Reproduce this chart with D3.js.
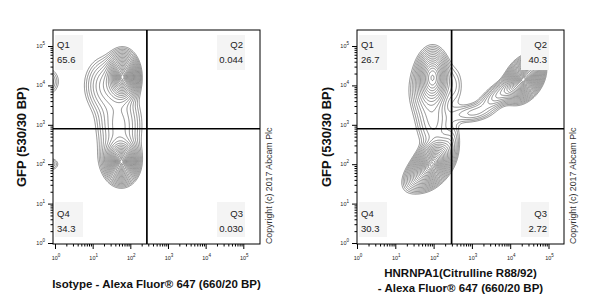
<!DOCTYPE html>
<html><head><meta charset="utf-8">
<script src="https://cdn.jsdelivr.net/npm/d3@7"></script>
<style>
body{margin:0;background:#fff}
svg{display:block}
text{font-family:"Liberation Sans",Arial,sans-serif}
</style>
</head><body>
<svg id="chart" width="600" height="300"></svg>
<script>
// ---------------- data ----------------
const quadrantNames = ["Q1", "Q2", "Q3", "Q4"];
const leftPercents = ["65.6", "0.044", "0.030", "34.3"];
const rightPercents = ["26.7", "40.3", "2.72", "30.3"];
const tickExponents = [0, 1, 2, 3, 4, 5];
const yTitle = "GFP (530/30 BP)";
const leftXTitle = ["Isotype - Alexa Fluor® 647 (660/20 BP)"];
const rightXTitle = ["HNRNPA1(Citrulline R88/92)", "- Alexa Fluor® 647 (660/20 BP)"];
const copyrightText = "Copyright (c) 2017 Abcam Plc";
// quadrant gates (log10 positions)
const leftGate = [2.44, 2.90];
const rightGate = [2.47, 2.90];
// cell populations: [log10 x, log10 y, sd x, sd y, correlation, weight]
const leftPopulations = [
  [1.80, 4.22, 0.19, 0.28, 0.0, 0.36],
  [1.35, 4.00, 0.30, 0.38, 0.0, 0.12],
  [1.70, 3.00, 0.32, 0.50, 0.0, 0.17],
  [1.77, 2.05, 0.19, 0.24, 0.0, 0.28],
  [1.70, 2.15, 0.27, 0.30, 0.0, 0.07],
  [-0.25, 4.10, 0.20, 0.20, 0.0, 0.03],
  [-0.15, 2.00, 0.15, 0.10, 0.0, 0.008]
];
const rightPopulations = [
  [1.98, 4.22, 0.19, 0.32, 0.0, 0.18],
  [1.85, 3.85, 0.27, 0.42, 0.0, 0.07],
  [2.55, 4.00, 0.16, 0.35, 0.0, 0.012],
  [1.98, 2.02, 0.23, 0.27, 0.40, 0.24],
  [1.70, 1.80, 0.25, 0.25, 0.50, 0.06],
  [2.00, 3.00, 0.25, 0.40, 0.0, 0.05],
  [4.36, 4.16, 0.22, 0.25, 0.35, 0.24],
  [3.85, 3.85, 0.35, 0.25, 0.75, 0.06],
  [3.00, 3.30, 0.35, 0.15, 0.30, 0.02],
  [2.45, 2.50, 0.15, 0.35, 0.30, 0.015]
];

// ---------------- layout ----------------
const panels = [
  {box: [53, 30, 260, 244], xr: [55, 243.3], yr: [243, 46], pops: leftPopulations, pct: leftPercents,
   gate: leftGate, title: leftXTitle, titleY: [288], yTitleX: 26, copyX: 272},
  {box: [357, 30, 564, 244], xr: [357, 548.5], yr: [243, 46], pops: rightPopulations, pct: rightPercents,
   gate: rightGate, title: rightXTitle, titleY: [277, 292], yTitleX: 331, copyX: 576}
];

const svg = d3.select("#chart");
const step = 0.02, l0 = -0.6, l1 = 6.0;
const n = Math.round((l1 - l0) / step) + 1;

function density(pops, lx, ly) {
  let s = 0;
  for (const [mx, my, sx, sy, r, w] of pops) {
    const dx = (lx - mx) / sx, dy = (ly - my) / sy, k = 1 - r * r;
    s += w / (2 * Math.PI * sx * sy * Math.sqrt(k)) * Math.exp(-(dx * dx - 2 * r * dx * dy + dy * dy) / (2 * k));
  }
  return s;
}

panels.forEach((p, pi) => {
  const [bx0, by0, bx1, by1] = p.box;
  const x = d3.scaleLog().domain([1, 1e5]).range(p.xr);
  const y = d3.scaleLog().domain([1, 1e5]).range(p.yr);
  const g = svg.append("g");

  const clipId = "clip" + pi;
  svg.append("clipPath").attr("id", clipId).append("rect")
    .attr("x", bx0).attr("y", by0).attr("width", bx1 - bx0).attr("height", by1 - by0);

  // density grid
  const values = new Float64Array(n * n);
  for (let j = 0; j < n; j++) for (let i = 0; i < n; i++)
    values[j * n + i] = density(p.pops, l0 + i * step, l0 + j * step);
  const maxV = d3.max(values);
  const thresholds = d3.range(0.2, 2.8, 0.12).map(r => maxV * Math.exp(-r * r / 2));
  const contours = d3.contours().size([n, n]).thresholds(thresholds)(values);
  const proj = d3.geoTransform({
    point: function (cx, cy) {
      this.stream.point(x(Math.pow(10, l0 + (cx - 0.5) * step)), y(Math.pow(10, l0 + (cy - 0.5) * step)));
    }
  });
  const path = d3.geoPath(proj);
  g.append("g").attr("clip-path", `url(#${clipId})`)
    .selectAll("path").data(contours).join("path")
    .attr("d", path).attr("fill", "none").attr("stroke", "#444").attr("stroke-width", 0.6);

  // label backgrounds + quadrant labels
  const lw = 28;
  const boxes = [
    [bx0 + 2, by0 + 5, "start", bx0 + 4],
    [bx1 - 15 - lw, by0 + 5, "end", bx1 - 17],
    [bx1 - 15 - lw, by1 - 42, "end", bx1 - 17],
    [bx0 + 2, by1 - 42, "start", bx0 + 4]
  ];
  quadrantNames.forEach((q, qi) => {
    const [rx, ry, anchor, tx] = boxes[qi];
    g.append("rect").attr("x", rx).attr("y", ry).attr("width", lw).attr("height", 35).attr("fill", "#f4f4f4");
    const top = qi < 2;
    const b1 = top ? 48 : 217;
    g.append("text").attr("x", tx).attr("y", b1).attr("text-anchor", anchor)
      .attr("font-size", 9.5).attr("fill", "#222").text(q);
    g.append("text").attr("x", tx).attr("y", b1 + 15).attr("text-anchor", anchor)
      .attr("font-size", 9.5).attr("fill", "#222").text(p.pct[qi]);
  });

  // gates
  const gx = x(Math.pow(10, p.gate[0])), gy = y(Math.pow(10, p.gate[1]));
  g.append("line").attr("x1", gx).attr("x2", gx).attr("y1", by0).attr("y2", by1).attr("stroke", "#000").attr("stroke-width", 1.7);
  g.append("line").attr("x1", bx0).attr("x2", bx1).attr("y1", gy).attr("y2", gy).attr("stroke", "#000").attr("stroke-width", 1.7);

  // frame
  g.append("rect").attr("x", bx0).attr("y", by0).attr("width", bx1 - bx0).attr("height", by1 - by0)
    .attr("fill", "none").attr("stroke", "#000").attr("stroke-width", 1);

  // axes
  const majors = tickExponents.map(e => Math.pow(10, e));
  const minors = [];
  for (let e = 0; e < 5; e++) for (let m = 2; m <= 9; m++) minors.push(m * Math.pow(10, e));
  const xa = g.append("g").attr("transform", `translate(0,${by1})`);
  xa.append("g").call(d3.axisBottom(x).tickValues(majors).tickSize(5).tickFormat(() => ""));
  xa.append("g").call(d3.axisBottom(x).tickValues(minors).tickSize(2.5).tickFormat(() => ""));
  const ya = g.append("g").attr("transform", `translate(${bx0},0)`);
  ya.append("g").call(d3.axisLeft(y).tickValues(majors).tickSize(5).tickFormat(() => ""));
  ya.append("g").call(d3.axisLeft(y).tickValues(minors).tickSize(2.5).tickFormat(() => ""));
  g.selectAll(".domain").remove();
  g.selectAll(".tick line").attr("stroke", "#000");

  tickExponents.forEach(e => {
    const t = g.append("text").attr("x", x(Math.pow(10, e)) + 1).attr("y", 260)
      .attr("text-anchor", "middle").attr("fill", "#222");
    t.append("tspan").attr("font-size", 5.5).text("10");
    t.append("tspan").attr("font-size", 4.5).attr("dy", -3).text(e);
    const u = g.append("text").attr("x", bx0 - 8).attr("y", y(Math.pow(10, e)) + 2)
      .attr("text-anchor", "end").attr("fill", "#222");
    u.append("tspan").attr("font-size", 5.5).text("10");
    u.append("tspan").attr("font-size", 4.5).attr("dy", -3).text(e);
  });

  // titles
  g.append("text").attr("transform", `translate(${p.yTitleX},${(by0 + by1) / 2}) rotate(-90)`)
    .attr("text-anchor", "middle").attr("font-size", 13).attr("font-weight", "bold").attr("fill", "#111").text(yTitle);
  p.title.forEach((s, k) => {
    g.append("text").attr("x", (bx0 + bx1) / 2).attr("y", p.titleY[k])
      .attr("text-anchor", "middle").attr("font-size", 11.5).attr("font-weight", "bold").attr("fill", "#111").text(s);
  });
  g.append("text").attr("transform", `translate(${p.copyX},${by1}) rotate(-90)`)
    .attr("text-anchor", "start").attr("font-size", 8.8).attr("fill", "#333").text(copyrightText);
});
</script>
</body></html>
